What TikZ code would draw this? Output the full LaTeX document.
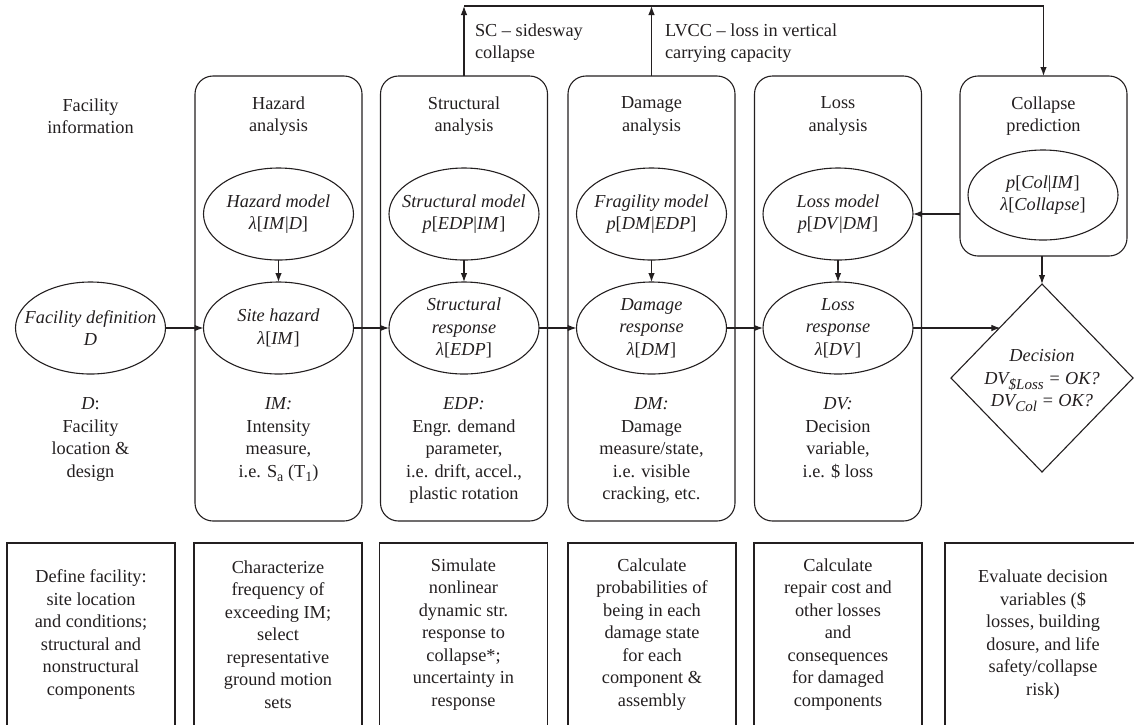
\documentclass[tikz,border=0pt]{standalone}
\usepackage{fontspec}
\setmainfont{Liberation Serif}
\usetikzlibrary{arrows.meta,shapes.geometric,calc}
\definecolor{ink}{HTML}{231F20}
\newcommand\LB{\textup{[}}
\newcommand\RB{\textup{]}}
\newcommand\Vb{\textup{|}}
\newcommand\Sub[1]{\raisebox{-5pt}{\fontsize{15}{15}\selectfont #1}}
\newcommand\USub[1]{\raisebox{-4pt}{\fontsize{14}{14}\selectfont #1}}
\begin{document}
\begin{tikzpicture}[x=1pt,y=-1pt, line width=1.1pt, draw=ink,
  every node/.style={font=\fontsize{18.3}{22.5}\selectfont, text=ink, inner sep=0pt, outer sep=0pt},
  rbox/.style={draw=ink, rounded corners=18pt, minimum width=167pt, minimum height=445pt},
  sqbox/.style={draw=ink, minimum width=168pt, minimum height=183pt, align=center},
  ell/.style={ellipse, draw=ink, minimum width=150pt, minimum height=92pt},
  ttl/.style={align=center},
  desc/.style={align=center, anchor=north},
  eltext/.style={font=\fontsize{18.3}{22.5}\selectfont\itshape, align=center, text=ink},
  arr/.style={draw=ink, -{Latex[length=9pt,width=6.5pt]}}
]
\useasboundingbox (0,0) rectangle (1134,724);
\clip (0,0) rectangle (1134,724);

% column frames
\node[rbox] (hA) at (278.5,298.5) {};
\node[rbox] (sA) at (464,298.5) {};
\node[rbox] (dA) at (651.5,298.5) {};
\node[rbox] (lA) at (838,298.5) {};
\node[rbox, minimum height=180pt] (cA) at (1043.5,166) {};

% titles
\node[ttl] (tfac) at (90.5,116) {Facility\\information};
\node[ttl] (thaz) at (278.5,116) {Hazard\\analysis};
\node[ttl] (tstr) at (464,116) {Structural\\analysis};
\node[ttl] (tdam) at (651.5,116) {Damage\\analysis};
\node[ttl] (tlos) at (838,116) {Loss\\analysis};
\node[ttl] (tcol) at (1043.5,116) {Collapse\\prediction};

% ellipses
\node[ell, label={[eltext]center:{Facility definition\\D}}] (fdef) at (90.5,328) {};
\node[ell, label={[eltext]center:{Hazard model\\λ\LB IM\Vb D\RB}}] (hmod) at (278.5,214) {};
\node[ell, label={[eltext]center:{Site hazard\\λ\LB IM\RB}}] (shaz) at (278.5,328) {};
\node[ell, label={[eltext]center:{Structural model\\p\LB EDP\Vb IM\RB}}] (smod) at (464,214) {};
\node[ell, label={[eltext]center:{Structural\\response\\λ\LB EDP\RB}}] (sres) at (464,328) {};
\node[ell, label={[eltext]center:{Fragility model\\p\LB DM\Vb EDP\RB}}] (dmod) at (651.5,214) {};
\node[ell, label={[eltext]center:{Damage\\response\\λ\LB DM\RB}}] (dres) at (651.5,328) {};
\node[ell, label={[eltext]center:{Loss model\\p\LB DV\Vb DM\RB}}] (lmod) at (838,214) {};
\node[ell, label={[eltext]center:{Loss\\response\\λ\LB DV\RB}}] (lres) at (838,328) {};
\node[ell, minimum height=90pt, label={[eltext]center:{p\LB Col\Vb IM\RB\\λ\LB Collapse\RB}}] (cmod) at (1043,195) {};

% decision diamond
\node[diamond, draw=ink, minimum width=182pt, minimum height=188pt,
  label={[eltext, yshift=-3pt]center:{Decision\\DV\Sub{\$Loss} = OK?\\DV\Sub{Col} = OK?}}] (dec) at (1042,378) {};

% descriptions
\node[desc] (dfac) at (90.5,398) {\textit{D}:\\Facility\\location \&\\design};
\node[desc] (dhaz) at (278.5,398) {\textit{IM:}\\Intensity\\measure,\\i.e. S\USub{a} (T\USub{1})};
\node[desc] (dstr) at (464,398) {\textit{EDP:}\\Engr. demand\\parameter,\\i.e. drift, accel.,\\plastic rotation};
\node[desc] (ddam) at (651.5,398) {\textit{DM:}\\Damage\\measure/state,\\i.e. visible\\cracking, etc.};
\node[desc] (dlos) at (838,398) {\textit{DV:}\\Decision\\variable,\\i.e. \$ loss};

% bottom boxes
\node[sqbox] (b1) at (91,634.5) {Define facility:\\site location\\and conditions;\\structural and\\nonstructural\\components};
\node[sqbox] (b2) at (278,634.5) {Characterize\\frequency of\\exceeding IM;\\select\\representative\\ground motion\\sets};
\node[sqbox] (b3) at (463.5,634.5) {Simulate\\nonlinear\\dynamic str.\\response to\\collapse*;\\uncertainty in\\response};
\node[sqbox] (b4) at (652,634.5) {Calculate\\probabilities of\\being in each\\damage state\\for each\\component \&\\assembly};
\node[sqbox] (b5) at (838,634.5) {Calculate\\repair cost and\\other losses\\and\\consequences\\for damaged\\components};
\node[sqbox, minimum width=196pt] (b6) at (1043,634.5) {Evaluate decision\\variables (\$\\losses, building\\dosure, and life\\safety/collapse\\risk)};

% top labels
\node[align=left, anchor=west] (lsc) at (475,43) {SC – sidesway\\collapse};
\node[align=left, anchor=west] (llv) at (665,43) {LVCC – loss in vertical\\carrying capacity};

% top loop
\coordinate (t1) at (464,6);
\coordinate (t2) at (651.5,6);
\coordinate (t3) at (1043.5,6);
\draw[ink] (t1) -- (t3);
\draw[arr] (sA.north) -- (t1);
\draw[arr] (dA.north) -- (t2);
\draw[arr] (t3) -- (cA.north);

% connectors
\draw[arr] (hmod.south) -- (shaz.north);
\draw[arr] (smod.south) -- (sres.north);
\draw[arr] (dmod.south) -- (dres.north);
\draw[arr] (lmod.south) -- (lres.north);
\draw[arr] (fdef.east) -- (shaz.west);
\draw[arr] (shaz.east) -- (sres.west);
\draw[arr] (sres.east) -- (dres.west);
\draw[arr] (dres.east) -- (lres.west);
\draw[arr] (cA.west |- lmod.east) -- (lmod.east);
\draw[arr] (dec.north |- cA.south) -- (dec.north);
\coordinate (dp) at ($(dec.north)!0.457!(dec.west)$);
\draw[arr] (lres.east) -- (lres.east -| dp);
\end{tikzpicture}
\end{document}
